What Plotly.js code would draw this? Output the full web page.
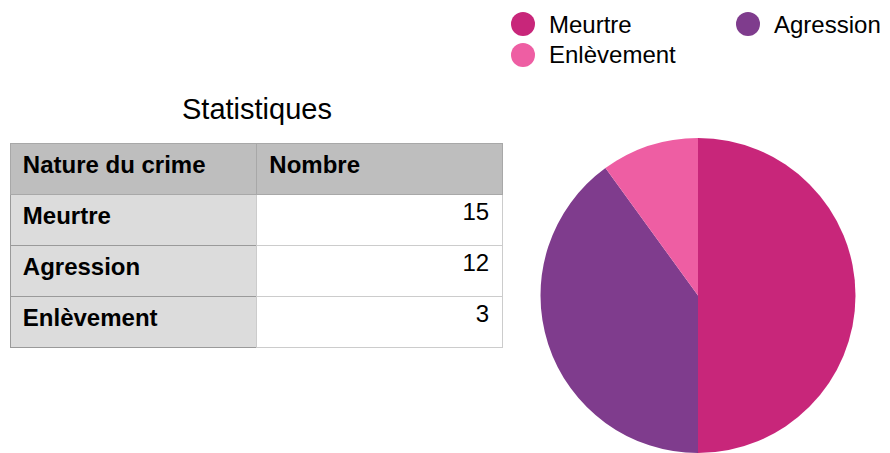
<!DOCTYPE html>
<html><head><meta charset="utf-8">
<script src="https://cdn.plot.ly/plotly-3.0.1.min.js"></script>
<style>html,body{margin:0;padding:0;background:#fff}</style>
</head><body><div id="chart" style="width:890px;height:453px"></div>
<script>
const categories = ['Meurtre', 'Agression', 'Enlèvement'];
const counts = [15, 12, 3];
const headers = ['Nature du crime', 'Nombre'];
const tableTitle = 'Statistiques';
const colors = ['#C8267A', '#7F3C8D', '#EE5EA3'];

const W = 890, H = 453;
const px = x => x / W, py = y => 1 - y / H;
const FONT = 'Liberation Sans, Arial, Helvetica, sans-serif';
const TS = '\u2009';

const traces = [];
traces.push({
  type: 'table',
  domain: {x: [px(10), px(503)], y: [py(400), py(143)]},
  columnwidth: [247, 246],
  header: {
    values: headers.map(h => TS + '<b>' + h + '</b>'),
    align: 'left',
    height: 51,
    fill: {color: '#BEBEBE'},
    line: {color: ['#A8A8A8', '#A8A8A8'], width: 1},
    font: {family: FONT, size: 24, color: '#000'}
  },
  cells: {
    values: [categories.map(c => TS + '<b>' + c + '</b>'), counts.map(v => v + TS)],
    align: ['left', 'right'],
    height: 51,
    fill: {color: ['#DCDCDC', '#FFFFFF']},
    line: {color: ['#9A9A9A', '#CCCCCC'], width: 1},
    font: {family: FONT, size: 24, color: '#000'}
  }
});
traces.push({
  type: 'pie',
  labels: categories,
  values: counts,
  sort: false,
  direction: 'clockwise',
  rotation: 0,
  marker: {colors: colors, line: {width: 0}},
  textinfo: 'none',
  hoverinfo: 'none',
  showlegend: false,
  domain: {x: [px(540), px(856)], y: [0, py(138)]}
});

// legend: two columns (Meurtre, Enlèvement) | (Agression)
const legendCols = [523, 748], legendRows = [24, 55], R = 12;
const legendPos = [[0, 0], [1, 0], [0, 1]];
const shapes = [], annotations = [];
categories.forEach((c, i) => {
  const cx = legendCols[legendPos[i][0]], cy = legendRows[legendPos[i][1]];
  shapes.push({type: 'circle', xref: 'paper', yref: 'paper',
    x0: px(cx - R), x1: px(cx + R), y0: py(cy + R), y1: py(cy - R),
    fillcolor: colors[i], line: {width: 0}});
  annotations.push({text: c, xref: 'paper', yref: 'paper', x: px(cx + 24), y: py(cy),
    xanchor: 'left', yanchor: 'middle', showarrow: false,
    font: {family: FONT, size: 24, color: '#000'}});
});
annotations.push({
  text: tableTitle, xref: 'paper', yref: 'paper', x: px(257), y: py(109),
  xanchor: 'center', yanchor: 'middle', showarrow: false,
  font: {family: FONT, size: 29, color: '#000'}
});

const layout = {
  width: W, height: H,
  margin: {l: 0, r: 0, t: 0, b: 0},
  paper_bgcolor: '#fff', plot_bgcolor: '#fff',
  font: {family: FONT, color: '#000'},
  showlegend: false,
  shapes: shapes,
  annotations: annotations
};
Plotly.newPlot('chart', traces, layout, {staticPlot: true, displayModeBar: false});
</script></body></html>
